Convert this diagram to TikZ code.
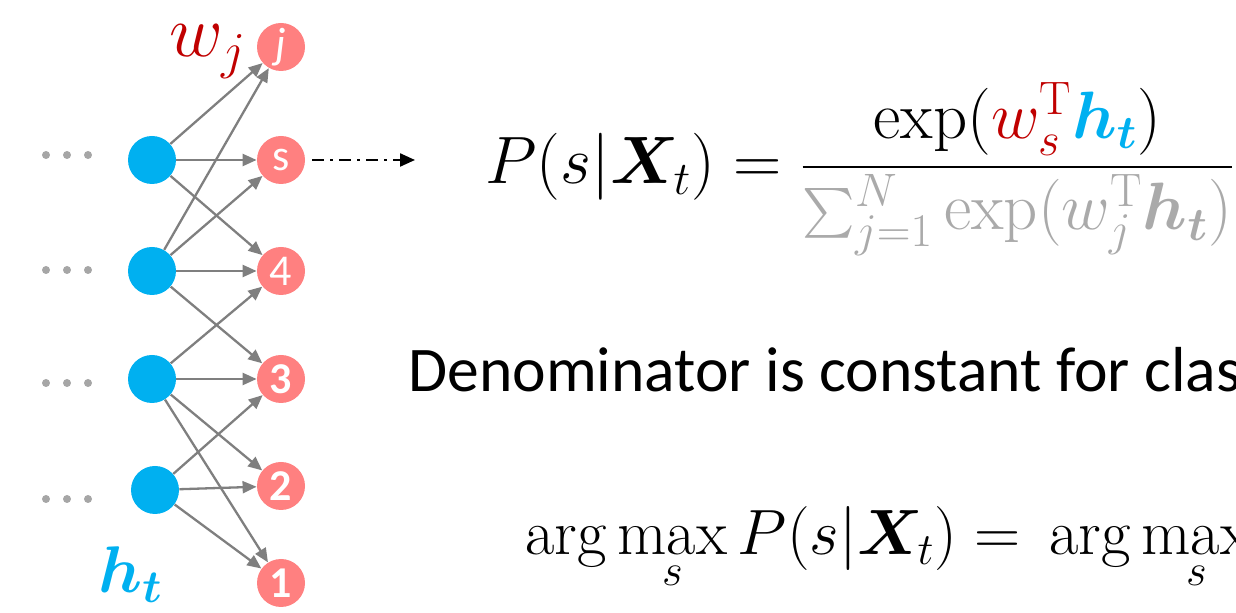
\RequirePackage{fix-cm}
\documentclass[tikz,border=0pt]{standalone}
\usepackage{amsmath}
\usepackage{bm}
\usepackage{fontspec}
\usepackage{tikz}
\usetikzlibrary{arrows.meta, positioning}
\newfontfamily\calibri{Carlito}
\definecolor{cPink}{RGB}{255,128,128}
\definecolor{cBlue}{RGB}{0,176,240}
\definecolor{cDark}{RGB}{192,0,0}
\definecolor{cLine}{RGB}{127,127,127}
\definecolor{cDots}{RGB}{166,166,166}
\definecolor{cFaint}{RGB}{170,170,170}
\tikzset{
	hid/.style ={circle, fill=cBlue, minimum size=24pt, inner sep=0pt},
	cls/.style ={circle, fill=cPink, minimum size=24pt, inner sep=0pt, text=white, font=\calibri\fontsize{22}{24}\selectfont},
	wgt/.style ={-{Triangle[length=7pt, width=6pt]}, draw=cLine, line width=1.15pt},
	link/.style={-{Triangle[length=7.5pt, width=6.5pt]}, line width=1.1pt, dash pattern=on 6pt off 3pt on 1.5pt off 3pt},
	eq/.style  ={anchor=base west, inner sep=0pt, font=\fontsize{33.5}{38}\selectfont},
}

\begin{document}
\begin{tikzpicture}[x=0.5pt, y=-0.5pt]
	\clip (0,0) rectangle (1236,613);
	% hidden state h_t
	\node[hid] (h1) at (152,160) {};
	\node[hid] (h2) at (152,271) {};
	\node[hid] (h3) at (152,379) {};
	\node[hid] (h4) at (155,490) {};
	\foreach \y in {155,270,383,499}
		\foreach \x in {46,67,88}
			\fill[cDots] (\x,\y) circle (2pt);
	% output classes
	\node[cls] (cj) at (281,47)  {\itshape j};
	\node[cls] (cs) at (281,160) {s};
	\node[cls] (c4) at (281,271) {4};
	\node[cls] (c3) at (281,379) {\bfseries 3};
	\node[cls] (c2) at (281,486) {\bfseries 2};
	\node[cls] (c1) at (281,583) {\bfseries 1};
	\foreach \a/\b in {h1/cj, h1/cs, h1/c4, h2/cj, h2/cs, h2/c4, h2/c3, h3/c4, h3/c3, h3/c2, h3/c1, h4/c3, h4/c2, h4/c1}
		\draw[wgt] (\a) -- (\b);
	\node[anchor=base west, inner sep=0pt, text=cDark, font=\fontsize{37}{40}\selectfont] (wlab) at (169,57) {$w_j$};
	\node[anchor=base west, inner sep=0pt, text=cBlue, font=\fontsize{33}{38}\selectfont] (hlab) at (98,593) {$\bm{h}_{\bm{t}}$};
	% softmax
	\coordinate (pend) at (415,160);
	\draw[link, shorten <=3.5pt] (cs) -- (pend);
	\node[eq] (peq) at (485,184) {$\displaystyle P(s|\bm{X}_t)=\frac{\exp(\textcolor{cDark}{w_s^{\mathrm{T}}}\textcolor{cBlue}{\bm{h}_{\bm{t}}})}{\textcolor{cFaint}{\sum_{j=1}^{N}\exp(w_j^{\mathrm{T}}\bm{h}_{\bm{t}})}}$};
	\node[anchor=base west, inner sep=0pt, font=\calibri\fontsize{31.8}{36}\selectfont] (note) at (408,392) {Denominator is constant for clas};
	\node[eq, font=\fontsize{32}{36}\selectfont] (amax) at (525,555) {$\displaystyle\arg\max_s P(s|\bm{X}_t)=\,\arg\max_s$};
\end{tikzpicture}
\end{document}
